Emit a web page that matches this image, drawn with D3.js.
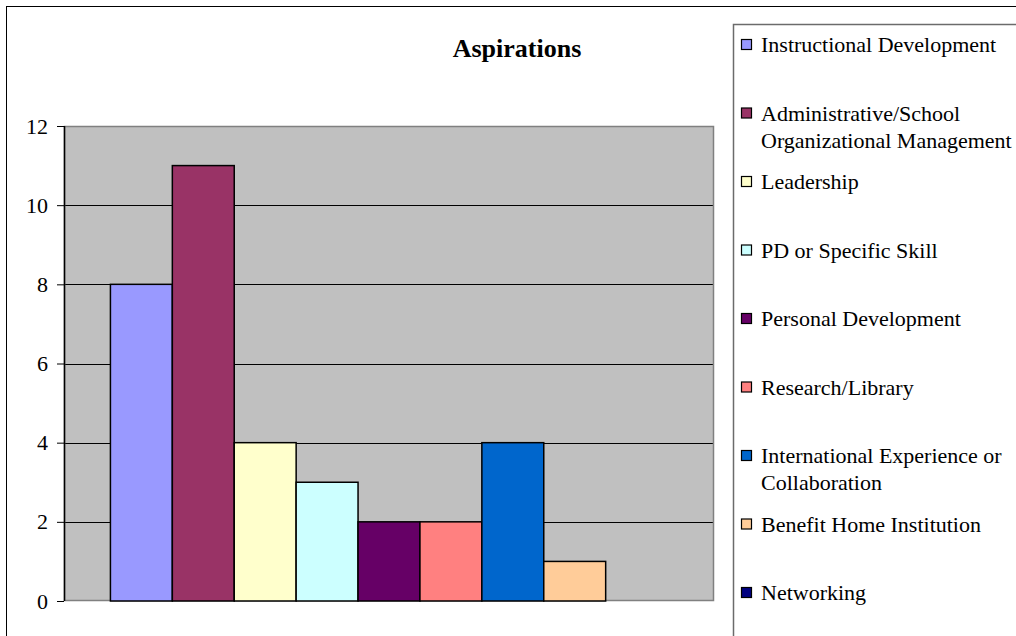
<!DOCTYPE html>
<html>
<head>
<meta charset="utf-8">
<script src="https://cdn.jsdelivr.net/npm/d3@7"></script>
<style>
  html, body { margin: 0; padding: 0; background: #fff; }
  svg { display: block; }
  text { font-family: "Liberation Serif", "Times New Roman", serif; }
</style>
</head>
<body>
<svg id="chart" width="1016" height="636"></svg>
<script>
// Survey responses: number of participants naming each aspiration
const series = [
  "Instructional Development",
  "Administrative/School Organizational Management",
  "Leadership",
  "PD or Specific Skill",
  "Personal Development",
  "Research/Library",
  "International Experience or Collaboration",
  "Benefit Home Institution",
  "Networking"
];
const values = [8, 11, 4, 3, 2, 2, 4, 1, 0];
const colors = ["#9999FF", "#993366", "#FFFFCC", "#CCFFFF", "#660066",
                "#FF8080", "#0066CC", "#FFCC99", "#000080"];
// Legend text, wrapped the way the legend box shows it
const legendLines = [
  ["Instructional Development"],
  ["Administrative/School", "Organizational Management"],
  ["Leadership"],
  ["PD or Specific Skill"],
  ["Personal Development"],
  ["Research/Library"],
  ["International Experience or", "Collaboration"],
  ["Benefit Home Institution"],
  ["Networking"]
];
const yTicks = [0, 2, 4, 6, 8, 10, 12];
const title = "Aspirations";

const svg = d3.select("#chart");

// Chart area frame
svg.append("rect")
  .attr("x", 6.5).attr("y", 6.5)
  .attr("width", 1020).attr("height", 640)
  .attr("fill", "#fff").attr("stroke", "#000").attr("stroke-width", 1);

const plot = { left: 64, top: 126, right: 714, bottom: 601 };
const W = plot.right - plot.left, H = plot.bottom - plot.top;

const y = d3.scaleLinear().domain([0, 12]).range([plot.bottom, plot.top]);
const x = d3.scaleBand().domain(series)
  .range([plot.left, plot.right])
  .paddingInner(0).paddingOuter(0.75);

// Plot background
svg.append("rect")
  .attr("x", plot.left).attr("y", plot.top)
  .attr("width", W).attr("height", H)
  .attr("fill", "#C0C0C0");

// Gridlines
svg.append("g")
  .selectAll("line")
  .data(yTicks.filter(t => t > 0 && t < 12))
  .join("line")
  .attr("x1", plot.left).attr("x2", plot.right)
  .attr("y1", d => Math.round(y(d)) + 0.5).attr("y2", d => Math.round(y(d)) + 0.5)
  .attr("stroke", "#000").attr("stroke-width", 1);

// Plot border
svg.append("rect")
  .attr("x", plot.left + 0.5).attr("y", plot.top + 0.5)
  .attr("width", W - 1).attr("height", H - 1)
  .attr("fill", "none").attr("stroke", "#808080").attr("stroke-width", 1.5);

// Bars
svg.append("g")
  .selectAll("rect")
  .data(values)
  .join("rect")
  .attr("x", (d, i) => x(series[i]))
  .attr("y", d => y(d))
  .attr("width", x.bandwidth())
  .attr("height", d => y(0) - y(d))
  .attr("fill", (d, i) => colors[i])
  .attr("stroke", d => d > 0 ? "#000" : "none")
  .attr("stroke-width", 1.5);

// Value axis
const yAxis = d3.axisLeft(y).tickValues(yTicks).tickSize(7).tickPadding(9)
  .tickFormat(d3.format("d"));
const ag = svg.append("g")
  .attr("transform", `translate(${plot.left},0)`)
  .call(yAxis);
ag.select(".domain").attr("stroke", "#000").attr("stroke-width", 1.5)
  .attr("d", `M0.5,${plot.top}V${plot.bottom}`);
ag.selectAll(".tick line").attr("stroke", "#000");
ag.selectAll(".tick text")
  .attr("font-family", "'Liberation Serif', 'Times New Roman', serif")
  .attr("font-size", 22).attr("fill", "#000");

// Title
svg.append("text")
  .attr("x", 517).attr("y", 57)
  .attr("text-anchor", "middle")
  .attr("font-size", 26).attr("font-weight", "bold")
  .text(title);

// Legend
svg.append("rect")
  .attr("x", 733.5).attr("y", 24.5)
  .attr("width", 400).attr("height", 700)
  .attr("fill", "#fff").attr("stroke", "#6b6b6b").attr("stroke-width", 1.5);

const legendStep = 68.5, legendBase = 52, lineH = 27;
const lg = svg.append("g").selectAll("g")
  .data(series)
  .join("g")
  .attr("transform", (d, i) => `translate(0,${legendBase + i * legendStep})`);
lg.append("rect")
  .attr("x", 741.5).attr("y", -12.5)
  .attr("width", 10).attr("height", 10)
  .attr("fill", (d, i) => colors[i])
  .attr("stroke", "#000").attr("stroke-width", 1.2);
lg.append("text")
  .attr("x", 761).attr("y", 0)
  .attr("font-size", 22).attr("fill", "#000")
  .selectAll("tspan")
  .data((d, i) => legendLines[i])
  .join("tspan")
  .attr("x", 761)
  .attr("dy", (d, j) => j === 0 ? 0 : lineH)
  .text(d => d);
</script>
</body>
</html>
